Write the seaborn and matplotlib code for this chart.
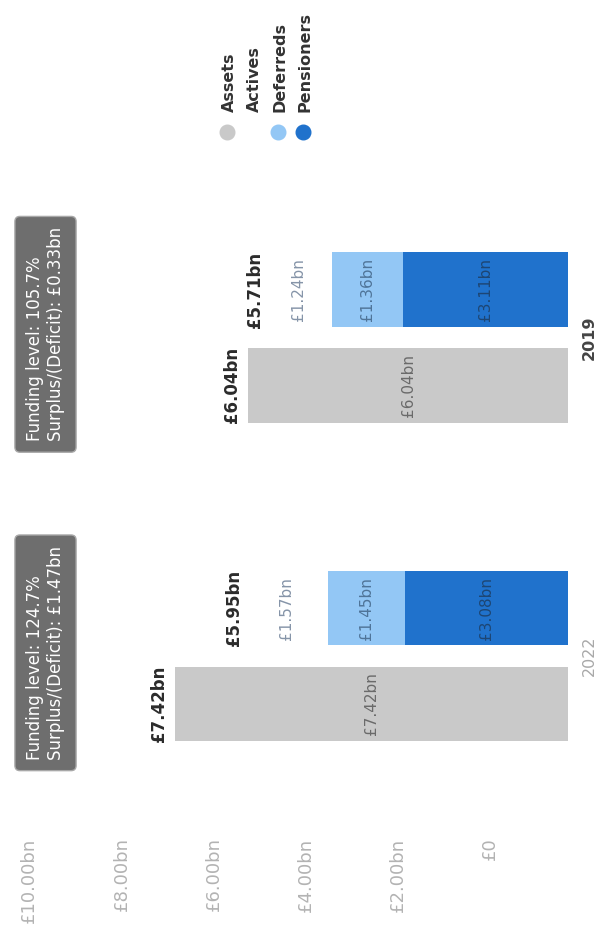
import matplotlib
matplotlib.use('Agg')
import matplotlib.pyplot as plt
from matplotlib.lines import Line2D
import seaborn as sns
import pandas as pd

# ---------------- data ----------------
years = ['2019', '2022']
assets = [6.04, 7.42]
actives = [1.24, 1.57]
deferreds = [1.36, 1.45]
pensioners = [3.11, 3.08]
liability_totals = [5.71, 5.95]
funding_levels = [105.7, 124.7]
surplus = [0.33, 1.47]
value_ticks = [0, 2, 4, 6, 8, 10]
value_tick_labels = ['£0', '£2.00bn', '£4.00bn', '£6.00bn', '£8.00bn', '£10.00bn']
series_names = ['Assets', 'Actives', 'Deferreds', 'Pensioners']
series_colors = ['#c9c9c9', '#ffffff', '#93c7f5', '#2072cc']

# ---------------- figure ----------------
W, H = 601, 931
fig = plt.figure(figsize=(W / 100, H / 100), dpi=100)
fig.patch.set_facecolor('white')


def fx(p):
    return p / W


def fy(p):
    return 1 - p / H


ax_l, ax_r, ax_t, ax_b = 10, 578, 178.25, 815.25
ax = fig.add_axes([fx(ax_l), fy(ax_b), (ax_r - ax_l) / W, (ax_b - ax_t) / H])

groups = ['Liabilities', 'Assets']
cum_act = [a + d + p for a, d, p in zip(actives, deferreds, pensioners)]
cum_def = [d + p for d, p in zip(deferreds, pensioners)]
layers = [
    (cum_act, series_colors[1], assets),
    (cum_def, series_colors[2], [0] * len(years)),
    (pensioners, series_colors[3], [0] * len(years)),
]
for vals, color, asset_vals in layers:
    rows = [dict(year=y, group='Liabilities', value=v) for y, v in zip(years, vals)]
    rows += [dict(year=y, group='Assets', value=v) for y, v in zip(years, asset_vals)]
    df = pd.DataFrame(rows)
    sns.barplot(data=df, x='value', y='year', hue='group', order=years,
                hue_order=groups,
                palette={'Liabilities': color, 'Assets': series_colors[0]},
                orient='h', width=0.602, gap=0.22, saturation=1,
                errorbar=None, legend=False, linewidth=0, ax=ax)

ax.set_xlim((568 - ax_l) / 52.9, (568 - ax_r) / 52.9)
ax.set_ylim(1.5, -0.5)
ax.set_xlabel('')
ax.set_ylabel('')
ax.set_xticks([])
for s in ax.spines.values():
    s.set_visible(False)

off = 0.602 / 4
# inside labels
for i in range(len(years)):
    ya, yl = i + off, i - off
    ax.text(assets[i] / 2, ya, f'£{assets[i]:.2f}bn', rotation=90, ha='center',
            va='center', color='#6a6a6a', fontsize=11)
    ax.text(pensioners[i] + deferreds[i] + actives[i] / 2, yl, f'£{actives[i]:.2f}bn',
            rotation=90, ha='center', va='center', color='#8594a8', fontsize=11)
    ax.text(pensioners[i] + deferreds[i] / 2, yl, f'£{deferreds[i]:.2f}bn',
            rotation=90, ha='center', va='center', color='#4f7498', fontsize=11)
    ax.text(pensioners[i] / 2, yl, f'£{pensioners[i]:.2f}bn',
            rotation=90, ha='center', va='center', color='#1d4674', fontsize=11)
    # totals
    ax.annotate(f'£{assets[i]:.2f}bn', xy=(assets[i], ya), xytext=(-16, 0),
                textcoords='offset pixels', rotation=90, ha='center', va='center',
                fontsize=12, fontweight='bold', color='#2b2b2b')
    ax.annotate(f'£{liability_totals[i]:.2f}bn', xy=(cum_act[i], yl), xytext=(-11, 0),
                textcoords='offset pixels', rotation=90, ha='center', va='center',
                fontsize=12, fontweight='bold', color='#2b2b2b')
    # funding boxes
    ax.annotate(f'Funding level: {funding_levels[i]:.1f}%\nSurplus/(Deficit): £{surplus[i]:.2f}bn',
                xy=((45.5 - ax_l) / (ax_r - ax_l), i - 0.01),
                xycoords=('axes fraction', 'data'), rotation=90, ha='center',
                va='center', ma='left', color='white', fontsize=12, linespacing=1.25,
                bbox=dict(boxstyle='round,pad=0.65,rounding_size=0.3',
                          fc='#6e6e6e', ec='#a8a8a8', lw=1))

# category labels on the right
ax.yaxis.tick_right()
ax.tick_params(axis='y', length=0, pad=3)
for lbl, c, w in zip(ax.get_yticklabels(), ['#444444', '#a8a8a8'], ['bold', 'normal']):
    lbl.set_rotation(90)
    lbl.set_va('center')
    lbl.set_color(c)
    lbl.set_fontweight(w)
    lbl.set_fontsize(11.5)

# value axis labels (separate scale as in the reference)
ax2 = ax.twiny()
ax2.set_xlim((490 - ax_l) / 46.07, (490 - ax_r) / 46.07)
ax2.set_xticks(value_ticks)
ax2.set_xticklabels(value_tick_labels, rotation=90, color='#b3b3b3', fontsize=13)
ax2.xaxis.set_ticks_position('bottom')
ax2.xaxis.set_label_position('bottom')
ax2.tick_params(axis='x', length=0, pad=16)
for s in ax2.spines.values():
    s.set_visible(False)

# legend (rotated)
for k, (name, color) in enumerate(zip(series_names, series_colors)):
    x = 227 + k * 25.3
    fig.add_artist(Line2D([fx(x)], [fy(132)], marker='o', markersize=10.5,
                          color=color, linestyle='none', transform=fig.transFigure))
    fig.text(fx(x + 2), fy(112), name, rotation=90, ha='center', va='bottom',
             fontsize=11.5, fontweight='bold', color='#333333')

fig.savefig('out.png', dpi=100)
